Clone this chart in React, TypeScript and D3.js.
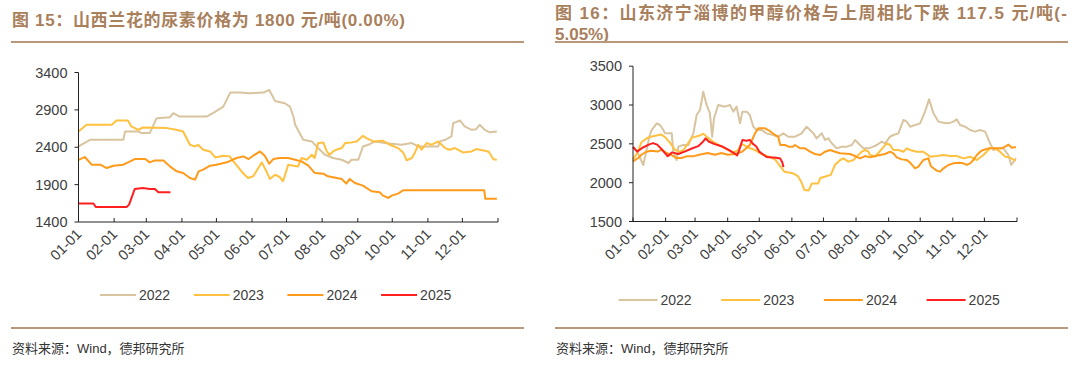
import React from "react";
import * as d3 from "d3";

type Pt = [number, number]; // [day of year, price]

const seriesYears = ["2022", "2023", "2024", "2025"];
const seriesColors = ["#D9C4A0", "#FFC13F", "#FF9A1A", "#FF1F1F"];
const monthLabels = ["01-01", "02-01", "03-01", "04-01", "05-01", "06-01", "07-01", "08-01", "09-01", "10-01", "11-01", "12-01"];
const ureaTicks = [1400, 1900, 2400, 2900, 3400];
const methTicks = [1500, 2000, 2500, 3000, 3500];

// Figure 15: urea price (Shanxi Lanhua)
const urea2022: Pt[] = [[0,2411],[10,2500],[39,2500],[40.5,2611],[52,2611],[55,2589],[62,2589],[68,2789],[79.5,2802],[82.5,2856],[88,2811],[111.5,2811],[117,2856],[126,2944],[132,3131],[140,3131],[149,3122],[161,3131],[166,3167],[171,3020],[179.5,2989],[184,2944],[187,2811],[188.5,2700],[195.5,2500],[203,2478],[208.5,2389],[214.5,2300],[221.5,2256],[229,2233],[235,2189],[237.5,2233],[243.5,2233],[247.5,2411],[252,2433],[258,2478],[266.5,2456],[281,2433],[290,2456],[295.5,2411],[313,2411],[314.5,2478],[319,2500],[324.5,2544],[326,2722],[332,2758],[336,2678],[342,2633],[346,2642],[349,2700],[353.5,2633],[358,2600],[364,2611]];
const urea2023: Pt[] = [[0,2611],[7,2700],[29,2700],[33,2758],[43,2758],[46,2678],[52,2633],[56,2664],[77,2656],[85,2633],[91,2611],[97,2433],[101,2411],[104,2433],[108.5,2367],[114.5,2344],[119,2264],[126,2287],[131.5,2278],[136,2189],[143,2056],[147.5,1989],[152,2011],[156.5,2122],[159.5,2198],[163.5,2078],[166.5,1976],[171,2033],[175,2002],[178,1945],[182.5,2167],[187,2153],[191,2144],[194,2256],[198.5,2233],[203,2300],[205.5,2256],[208.5,2456],[213,2465],[216,2344],[218.5,2300],[221.5,2344],[224.5,2367],[229,2389],[232,2456],[237.5,2465],[242,2478],[247.5,2553],[250.5,2522],[256.5,2478],[265,2487],[271,2433],[278,2389],[282.5,2331],[285.5,2225],[290,2256],[292.5,2322],[295.5,2433],[298.5,2367],[303,2456],[307,2433],[313,2478],[316,2433],[319,2389],[323,2367],[327.5,2389],[334.5,2331],[342,2344],[346,2376],[353.5,2353],[357,2340],[361,2240],[364,2233]];
const urea2024: Pt[] = [[0,2230],[5.5,2269],[11.5,2167],[19,2167],[24.5,2122],[30.5,2153],[39,2167],[49,2242],[58,2242],[62,2198],[66.5,2224],[74,2224],[79.5,2144],[85.5,2078],[91,2056],[97,1989],[101.5,1967],[104.5,2078],[108.5,2100],[114.5,2153],[120,2167],[129,2198],[137.5,2256],[143.5,2278],[148,2242],[152,2287],[158,2344],[162,2287],[166,2180],[169.5,2242],[175,2256],[182.5,2256],[188.5,2233],[194,2211],[200,2153],[205.5,2056],[213,2047],[217,2011],[229,1976],[233,1913],[236,1976],[240.5,1922],[247.5,1887],[255,1811],[262,1798],[265,1753],[269.5,1722],[272.5,1753],[278,1780],[282.5,1825],[353,1825],[354,1710],[364,1710]];
const urea2025: Pt[] = [[0,1647],[13,1647],[15,1602],[42,1602],[44,1633],[49,1842],[56,1856],[62,1842],[66.5,1842],[69.5,1798],[80,1798]];

// Figure 16: methanol price (Shandong Jining / Zibo)
const meth2022: Pt[] = [[0,2463],[4,2400],[9.8,2228],[15.7,2600],[17.7,2678],[22.5,2764],[25.7,2743],[28.8,2678],[30.4,2635],[36.8,2635],[38.3,2399],[41.5,2292],[43.1,2464],[47.8,2485],[52.6,2485],[57.4,2635],[60.5,2872],[63.7,2936],[66.8,3172],[70,3000],[73,2900],[75.3,2592],[77,2830],[81,3000],[87.4,2979],[92.2,3000],[95.4,2915],[98.5,2979],[101.7,2764],[104,2915],[108,2915],[111,2872],[114.4,2721],[117.5,2678],[122.3,2678],[127,2635],[133.4,2614],[138,2592],[143,2635],[147.6,2592],[154,2592],[160.3,2635],[165,2721],[168.3,2678],[171.5,2635],[174.6,2571],[179.4,2635],[182.6,2550],[185.7,2571],[188.9,2507],[193.7,2442],[198.4,2464],[203.2,2464],[207.9,2485],[211.1,2550],[215.8,2485],[219,2442],[223.8,2442],[228.5,2464],[231.7,2485],[236.4,2528],[239.6,2507],[244.4,2592],[247.5,2614],[252.3,2635],[257,2807],[260.2,2786],[263.4,2721],[268.1,2743],[272.9,2764],[277.6,2915],[281.4,3073],[285.6,2893],[290.3,2786],[295.1,2773],[299.8,2764],[304.6,2786],[307.7,2816],[310.9,2743],[315.7,2721],[320.4,2678],[325.2,2657],[329.9,2678],[334.7,2657],[339.4,2507],[342.6,2421],[347.3,2442],[352.1,2442],[356.8,2356],[359.5,2227],[364,2314]];
const meth2023: Pt[] = [[0,2300],[4,2380],[8,2520],[14,2580],[20,2600],[27,2620],[31,2580],[36,2500],[40,2420],[44,2400],[48,2420],[52,2500],[56,2580],[62,2600],[67,2630],[71,2580],[76,2530],[81,2490],[88,2440],[95,2390],[100,2420],[103,2500],[106,2480],[110,2450],[116,2420],[122,2370],[128,2340],[135,2300],[140,2210],[144,2140],[152,2120],[157,2080],[160,2010],[163,1905],[167,1900],[170,1990],[176,1990],[178,2060],[183,2080],[188,2100],[192,2230],[197,2292],[200,2313],[204.7,2271],[209.5,2292],[212.7,2335],[217.4,2399],[220.6,2421],[223.8,2399],[225.3,2356],[230.1,2335],[241.2,2507],[244.4,2485],[247.5,2421],[252.3,2421],[257,2399],[260.2,2442],[263.4,2421],[269.7,2399],[276,2399],[282.4,2335],[288.7,2343],[295.1,2356],[301.4,2343],[307.7,2343],[314.1,2313],[320.4,2335],[326.8,2292],[333.1,2356],[339.4,2442],[344.2,2442],[348.9,2399],[353.7,2335],[357,2330],[363,2290],[364,2290]];
const meth2024: Pt[] = [[0,2275],[5,2318],[8,2360],[12,2395],[17,2412],[24,2403],[27,2425],[32,2382],[36,2360],[41,2318],[46,2318],[51,2339],[57,2339],[63,2360],[71,2382],[78,2360],[84,2382],[90,2360],[97,2370],[104,2400],[111,2485],[116,2635],[119,2700],[125.5,2700],[128.7,2678],[135,2614],[138,2592],[140,2485],[144.5,2485],[148,2464],[152,2464],[154,2485],[159,2442],[163.5,2442],[168.3,2399],[173,2369],[178,2356],[182.6,2399],[187.3,2421],[192.1,2399],[196.8,2378],[206.3,2369],[211.1,2343],[215.8,2313],[220.6,2343],[225.3,2326],[230.1,2343],[234.8,2356],[239.6,2369],[244.4,2399],[247.5,2378],[250.7,2326],[255.4,2300],[260.2,2292],[263.4,2258],[268.1,2185],[271.3,2206],[276,2292],[280.8,2313],[283,2215],[285.6,2185],[288.7,2155],[291.9,2142],[295.1,2185],[299.8,2228],[304.6,2249],[309.3,2258],[314.1,2249],[317.2,2228],[320.4,2249],[323.6,2292],[326.8,2356],[330,2399],[333.1,2421],[337.8,2442],[342.6,2442],[350.5,2442],[353.7,2464],[357,2490],[360,2450],[364,2460]];
const meth2025: Pt[] = [[0,2460],[4,2400],[9,2450],[15,2490],[19,2510],[23,2490],[28,2420],[33,2340],[37,2390],[43,2370],[49,2400],[56,2440],[62,2470],[66,2520],[69,2570],[72,2530],[77,2500],[84,2470],[90,2430],[96,2380],[99,2350],[101,2420],[104,2550],[108,2540],[111,2550],[114,2500],[117,2470],[120,2400],[124,2360],[127,2330],[136,2320],[140,2310],[142,2260],[143,2200]];

const BASE = new Date(2021, 0, 1).getTime();
const toDate = (d: number) => new Date(BASE + d * 86400000);
const FONT = "'Liberation Sans', Arial, 'Noto Sans CJK SC', sans-serif";
const TITLE_COLOR = "#A9805C";
const RULE_COLOR = "#B8977A";
const AXIS_TEXT = "#404040";

type PanelProps = {
  x0: number; x1: number; yTop: number; yBottom: number;
  domain: [number, number]; ticks: number[]; data: Pt[][];
  legendX: number; legendStep: number; legendLine: number; legendY: number;
};

function Panel(p: PanelProps) {
  const x = d3.scaleTime().domain([toDate(0), toDate(365)]).range([p.x0, p.x1]);
  const y = d3.scaleLinear().domain(p.domain).range([p.yBottom, p.yTop]);
  const line = d3.line<Pt>().x((d) => x(toDate(d[0]))).y((d) => y(d[1]));
  const months = d3.timeMonth.range(toDate(0), toDate(366));
  return (
    <g>
      {p.data.map((s, i) => (
        <path key={i} d={line(s) || ""} fill="none" stroke={seriesColors[i]} strokeWidth={2} strokeLinejoin="round" />
      ))}
      <line x1={p.x0} x2={p.x0} y1={p.yTop} y2={p.yBottom} stroke="#222" strokeWidth={1} />
      <line x1={p.x0} x2={p.x1} y1={p.yBottom} y2={p.yBottom} stroke="#222" strokeWidth={1} />
      {p.ticks.map((t) => (
        <g key={t}>
          <line x1={p.x0 - 4} x2={p.x0} y1={y(t)} y2={y(t)} stroke="#222" />
          <text x={p.x0 - 11} y={y(t) + 5} textAnchor="end" fontSize={14.5} fill={AXIS_TEXT} fontFamily={FONT}>{t}</text>
        </g>
      ))}
      {months.map((m, i) => (
        <g key={i}>
          <line x1={x(m)} x2={x(m)} y1={p.yBottom} y2={p.yBottom - 4} stroke="#222" />
          {i < monthLabels.length && (
            <text transform={`translate(${x(m) + 4},${p.yBottom + 13}) rotate(-45)`} textAnchor="end" fontSize={14.5} fill={AXIS_TEXT} fontFamily={FONT}>{monthLabels[i]}</text>
          )}
        </g>
      ))}
      {seriesYears.map((yr, i) => {
        const lx = p.legendX + i * p.legendStep;
        return (
          <g key={yr}>
            <line x1={lx} x2={lx + p.legendLine} y1={p.legendY} y2={p.legendY} stroke={seriesColors[i]} strokeWidth={2} />
            <text x={lx + p.legendLine + 3} y={p.legendY + 5} fontSize={14} fill={AXIS_TEXT} fontFamily={FONT}>{yr}</text>
          </g>
        );
      })}
    </g>
  );
}

export default function App() {
  return (
    <svg width={1080} height={366} style={{ position: "absolute", left: 0, top: 0, background: "#fff" }}>
      <rect width={1080} height={366} fill="#fff" />
      {/* Titles */}
      <text x={12} y={26} fontSize={17} fontWeight="bold" fill={TITLE_COLOR} fontFamily={FONT} textLength={393} lengthAdjust="spacing">图 15：山西兰花的尿素价格为 1800 元/吨(0.00%)</text>
      <text x={555} y={19} fontSize={17} fontWeight="bold" fill={TITLE_COLOR} fontFamily={FONT} textLength={512} lengthAdjust="spacing">图 16：山东济宁淄博的甲醇价格与上周相比下跌 117.5 元/吨(-</text>
      <text x={555} y={39.5} fontSize={17} fontWeight="bold" fill={TITLE_COLOR} fontFamily={FONT}>5.05%)</text>
      <line x1={11} x2={524} y1={42} y2={42} stroke={RULE_COLOR} strokeWidth={2} />
      <line x1={555} x2={1068} y1={42} y2={42} stroke={RULE_COLOR} strokeWidth={2} />
      <Panel x0={78.5} x1={498} yTop={72.5} yBottom={222} domain={[1400, 3400]} ticks={ureaTicks}
        data={[urea2022, urea2023, urea2024, urea2025]} legendX={100} legendStep={93.7} legendLine={36} legendY={295} />
      <Panel x0={633} x1={1017} yTop={66.2} yBottom={221.5} domain={[1500, 3500]} ticks={methTicks}
        data={[meth2022, meth2023, meth2024, meth2025]} legendX={618.5} legendStep={102.7} legendLine={39} legendY={300} />
      <line x1={11} x2={524} y1={328} y2={328} stroke={RULE_COLOR} strokeWidth={2} />
      <line x1={555} x2={1068} y1={328} y2={328} stroke={RULE_COLOR} strokeWidth={2} />
      <text x={12} y={353} fontSize={13} fill="#333" fontFamily={FONT}>资料来源：Wind，德邦研究所</text>
      <text x={556} y={353} fontSize={13} fill="#333" fontFamily={FONT}>资料来源：Wind，德邦研究所</text>
    </svg>
  );
}
